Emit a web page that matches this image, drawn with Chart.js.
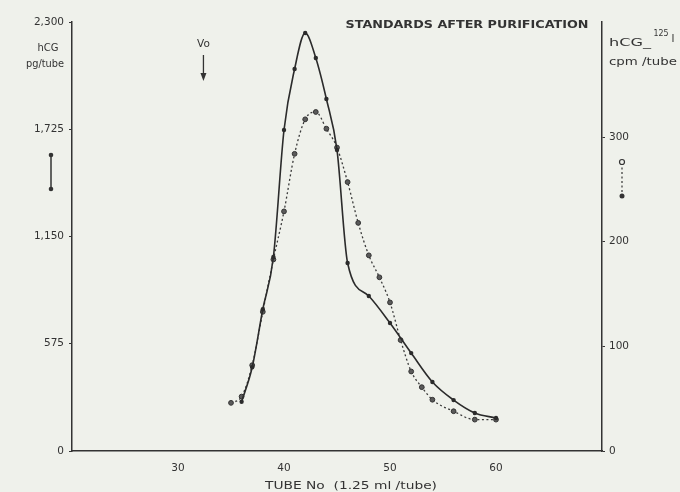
<!DOCTYPE html>
<html>
<head>
<meta charset="utf-8">
<script src="https://cdn.jsdelivr.net/npm/chart.js@4"></script>
<style>
  html, body { margin: 0; padding: 0; background: #eff1eb; }
  canvas { display: block; }
</style>
</head>
<body>
<canvas id="myChart" width="680" height="492"></canvas>
<script>
// hCG mass (pg/tube), solid line, left axis
const solidTubes = [36, 37, 38, 39, 40, 41, 42, 43, 44, 45, 46, 48, 50, 52, 54, 56, 58, 60]
const hcgPg = [264, 449, 760, 1040, 1721, 2048, 2241, 2107, 1887, 1614, 1008, 831, 686, 525, 370, 273, 204, 177]

// hCG-125I counts (cpm/tube), dotted line, right axis
const dottedTubes = [35, 36, 37, 38, 39, 40, 41, 42, 43, 44, 45, 46, 47, 48, 49, 50, 51, 52, 53, 54, 56, 58, 60]
const tracerCpm = [46, 52, 82, 133, 183, 229, 284, 317, 324, 308, 290, 257, 218, 187, 166, 142, 106, 76, 61, 49, 38, 30, 30]

const xTicks = [30, 40, 50, 60]
const leftTicks = [0, 575, 1150, 1725, 2300]
const rightTicks = [0, 100, 200, 300]
const voTube = 32.4

const ink = '#333'
const paper = '#eff1eb'
const font = { family: 'DejaVu Sans', size: 10.5 }

const toPoints = (xs, ys) => xs.map((t, i) => ({ x: t, y: ys[i] }))

// text, legend glyphs and the Vo marker
const notes = {
  id: 'notes',
  beforeDraw(chart) {
    const ctx = chart.ctx
    ctx.save()
    ctx.fillStyle = paper
    ctx.fillRect(0, 0, chart.width, chart.height)
    ctx.restore()
  },
  afterDraw(chart) {
    const { ctx, chartArea: a, scales } = chart
    ctx.save()
    ctx.fillStyle = ink
    ctx.strokeStyle = ink
    ctx.textBaseline = 'middle'
    ctx.textAlign = 'center'

    // squeeze or stretch text to a width
    const fitText = (txt, cx, cy, w) => {
      const m = ctx.measureText(txt).width
      ctx.save()
      ctx.translate(cx, cy)
      ctx.scale(w / m, 1)
      ctx.fillText(txt, 0, 0)
      ctx.restore()
    }

    ctx.font = 'bold 10px "DejaVu Sans"'
    fitText('STANDARDS AFTER PURIFICATION', 467, 25, 243)

    ctx.font = '10.5px "DejaVu Sans"'
    fitText('hCG', 48, 48, 21)
    fitText('pg/tube', 45, 64, 38)

    ctx.font = '10px "DejaVu Sans"'
    fitText('hCG_', 630, 43, 42)
    ctx.font = '8px "DejaVu Sans"'
    fitText('125', 661, 34, 15)
    ctx.font = '10px "DejaVu Sans"'
    ctx.fillText('I', 673, 39)
    fitText('cpm /tube', 643, 62, 68)

    // Vo arrow
    const vx = scales.x.getPixelForValue(voTube)
    ctx.font = '10.5px "DejaVu Sans"'
    ctx.fillText('Vo', vx, 44)
    ctx.lineWidth = 1.3
    ctx.beginPath()
    ctx.moveTo(vx, 55)
    ctx.lineTo(vx, 78)
    ctx.stroke()
    ctx.beginPath()
    ctx.moveTo(vx - 3, 73)
    ctx.lineTo(vx + 3, 73)
    ctx.lineTo(vx, 81)
    ctx.closePath()
    ctx.fill()

    // x title
    ctx.font = '10.5px "DejaVu Sans"'
    fitText('TUBE No  (1.25 ml /tube)', (a.left + a.right) / 2 + 14, 486, 172)

    // legend glyph, solid
    ctx.lineWidth = 1.5
    ctx.beginPath()
    ctx.moveTo(51, 155)
    ctx.lineTo(51, 189)
    ctx.stroke()
    ctx.beginPath(); ctx.arc(51, 155, 2.3, 0, Math.PI * 2); ctx.fill()
    ctx.beginPath(); ctx.arc(51, 189, 2.3, 0, Math.PI * 2); ctx.fill()

    // legend glyph, dotted
    ctx.lineWidth = 1.2
    ctx.setLineDash([2, 2.5])
    ctx.beginPath()
    ctx.moveTo(622, 163)
    ctx.lineTo(622, 195)
    ctx.stroke()
    ctx.setLineDash([])
    ctx.fillStyle = paper
    ctx.beginPath(); ctx.arc(622, 162, 2.5, 0, Math.PI * 2); ctx.fill(); ctx.stroke()
    ctx.fillStyle = ink
    ctx.beginPath(); ctx.arc(622, 196, 2.5, 0, Math.PI * 2); ctx.fill()
    ctx.restore()
  }
}

const data = {
  datasets: [{
    label: 'hCG pg/tube',
    data: toPoints(solidTubes, hcgPg),
    yAxisID: 'y',
    borderColor: '#2b2b2b',
    borderWidth: 1.6,
    pointRadius: 2.2,
    pointBackgroundColor: '#2b2b2b',
    pointBorderWidth: 0,
    cubicInterpolationMode: 'monotone',
  }, {
    label: 'hCG-125I cpm/tube',
    data: toPoints(dottedTubes, tracerCpm),
    yAxisID: 'y2',
    borderColor: '#3a3a3a',
    borderWidth: 1.3,
    borderDash: [2, 2.5],
    pointRadius: 2.4,
    pointBackgroundColor: '#5a5a5a',
    pointBorderColor: '#333',
    pointBorderWidth: 1,
    cubicInterpolationMode: 'monotone',
  }]
}

const config = {
  type: 'line',
  data: data,
  options: {
    responsive: false,
    animation: false,
    layout: { padding: { top: 22, left: 0, right: 0, bottom: 0 } },
    plugins: { legend: { display: false }, tooltip: { enabled: false } },
    scales: {
      x: {
        type: 'linear',
        min: 20,
        max: 70,
        afterBuildTicks: axis => { axis.ticks = xTicks.map(v => ({ value: v })) },
        afterFit: s => { s.height = 41 },
        grid: { drawOnChartArea: false, drawTicks: false },
        border: { display: true, color: ink, width: 1.5 },
        ticks: { color: ink, font: font, padding: 11 },
      },
      y: {
        position: 'left',
        min: 0,
        max: 2300,
        afterBuildTicks: axis => { axis.ticks = leftTicks.map(v => ({ value: v })) },
        afterFit: s => { s.width = 72 },
        grid: { drawOnChartArea: false, tickLength: 3, color: ink },
        border: { display: true, color: ink, width: 1.5 },
        ticks: { color: ink, font: font, padding: 5, callback: v => v.toLocaleString('en-US') },
      },
      y2: {
        position: 'right',
        min: 0,
        max: 410,
        afterBuildTicks: axis => { axis.ticks = rightTicks.map(v => ({ value: v })) },
        afterFit: s => { s.width = 78 },
        grid: { drawOnChartArea: false, tickLength: 3, color: ink },
        border: { display: true, color: ink, width: 1.5 },
        ticks: { color: ink, font: font, padding: 4 },
      },
    },
  },
  plugins: [notes],
}

const myChart = new Chart(document.getElementById('myChart'), config)
</script>
</body>
</html>
